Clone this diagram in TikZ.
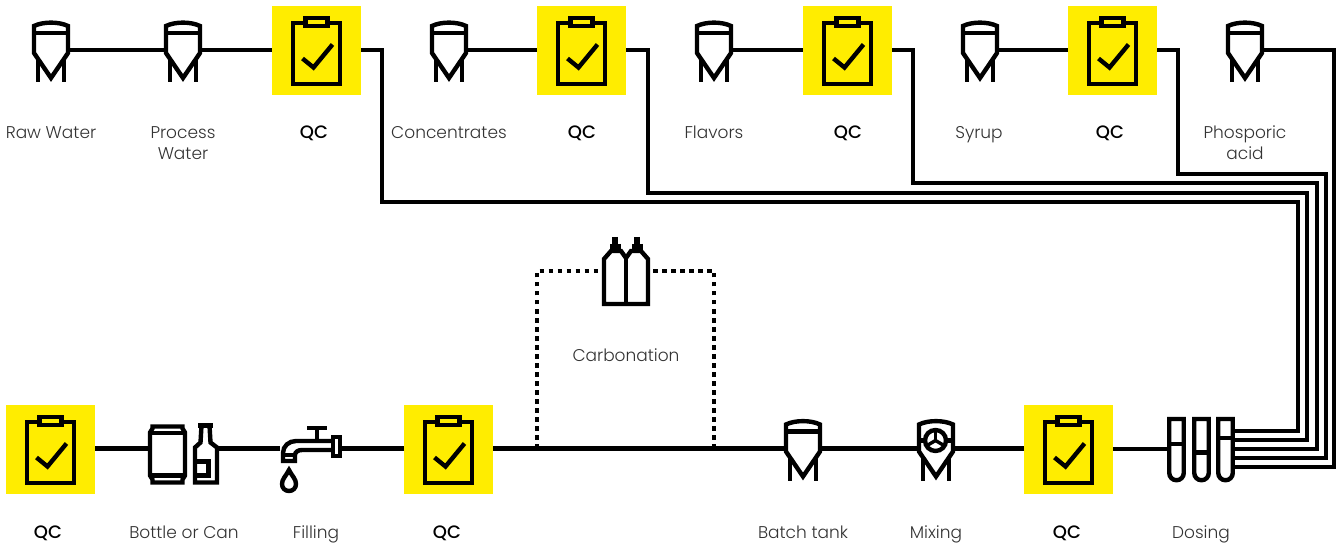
\documentclass[tikz,border=0pt]{standalone}
\usepackage{fontspec}
\setmainfont{Poppins}[UprightFont=* Light,BoldFont=* Medium]
\definecolor{qcyellow}{HTML}{FFED00}
\definecolor{labelgray}{HTML}{333333}
\tikzset{
pipe/.style={line width=4.8pt,black},
gasline/.style={line width=4.4pt,black,dash pattern=on 4.4pt off 4.6pt},
iconline/.style={line width=4.4pt,black,line join=miter},
tankbase/.style={minimum width=38pt,minimum height=60pt,inner sep=0pt},
qcbox/.style={fill=qcyellow,minimum width=89pt,minimum height=89pt,inner sep=0pt},
lbl/.style={font=\fontsize{17}{21}\selectfont,text=labelgray,align=center,inner sep=0pt},
qclbl/.style={font=\fontsize{18}{21}\selectfont\bfseries,text=black,inner sep=0pt},
tank/.pic={
\draw[iconline] (-17,3) -- (-17,-24) .. controls (-8,-28.5) and (8,-28.5) .. (17,-24) -- (17,3) -- (0,28) -- cycle;
\draw[iconline] (-17,-17) -- (17,-17);
\draw[iconline] (-13,9) -- (-13,32);
\draw[iconline] (13,9) -- (13,32);
},
mixtank/.pic={
\draw[iconline] (-17,3) -- (-17,-24) .. controls (-8,-28.5) and (8,-28.5) .. (17,-24) -- (17,3) -- (0,28) -- cycle;
\draw[iconline] (-13,9) -- (-13,32);
\draw[iconline] (13,9) -- (13,32);
\draw[iconline,fill=white] (-0.5,-8) circle (10.5);
\draw[line width=3.4pt] (-0.5,-8) -- (-0.5,-18);
\draw[line width=3.4pt] (-0.5,-8) -- (-9,-3);
\draw[line width=3.4pt] (-0.5,-8) -- (8,-3);
\draw[iconline] (-17,-8) -- (-11,-8);
\draw[iconline] (17,-8) -- (10,-8);
},
clipboard/.pic={
\draw[iconline] (-23.5,-27.5) rectangle (23.5,33.5);
\draw[iconline,fill=qcyellow] (-11,-32.5) rectangle (11,-24.5);
\draw[iconline] (-14,8) -- (-3,17) -- (16,-6);
},
cylinders/.pic={
\draw[iconline] (-22,33) -- (-22,-12) -- (-15,-20) -- (-5,-20) -- (0,-13) -- (5,-20) -- (15,-20) -- (22,-12) -- (22,33) -- cycle;
\draw[iconline] (0,-13) -- (0,33);
\draw[line width=5.5pt] (-11,-34) -- (-11,-24);
\draw[line width=5.5pt] (11,-34) -- (11,-24);
\draw[line width=11pt] (-11,-27) -- (-11,-20);
\draw[line width=11pt] (11,-27) -- (11,-20);
},
canbottle/.pic={
% can
\draw[iconline] (-31,-22) -- (-1,-22) -- (-1,-20) -- (1.5,-16) -- (1.5,27) -- (-1,31) -- (-1,34) -- (-31,34) -- (-31,31) -- (-33.5,27) -- (-33.5,-16) -- (-31,-20) -- cycle;
\draw[iconline] (-33,-15.5) -- (1,-15.5);
\draw[iconline] (-33,27) -- (1,27);
% bottle
\draw[iconline] (11.5,34) -- (11.5,-1) -- (17,-6) -- (18,-23) -- (26,-23) -- (27,-6) -- (33.5,-1) -- (33.5,34) -- cycle;
\draw[iconline] (14.5,-23) -- (29.5,-23);
\draw[iconline] (11.5,13) -- (25,13) -- (25,27) -- (11.5,27);
},
faucet/.pic={
\draw[iconline] (22,-12) rectangle (29,7);
\draw[iconline] (22,-8) -- (-15,-8) .. controls (-22,-8) and (-28,-3) .. (-28,4) -- (-28,12) -- (-16,12) -- (-16,6) .. controls (-16,3) and (-13,1) .. (-9,1) -- (22,1);
\draw[iconline] (-28,6) -- (-16,6);
\draw[iconline] (6,-8) -- (6,-21);
\draw[iconline] (-4,-21) -- (16,-21);
\draw[iconline] (-22,21) .. controls (-25,27) and (-29,30) .. (-29,35) .. controls (-29,39) and (-26,42) .. (-22,42) .. controls (-18,42) and (-15,39) .. (-15,35) .. controls (-15,30) and (-19,27) .. (-22,21) -- cycle;
},
tubes/.pic={
\draw[iconline] (-31.75,-30) -- (-31.75,24) arc[start angle=180,end angle=0,radius=7.25] -- (-17.25,-30) -- cycle;
\draw[iconline] (-6.75,-30) -- (-6.75,24) arc[start angle=180,end angle=0,radius=7.25] -- (7.75,-30) -- cycle;
\draw[iconline] (17.25,-30) -- (17.25,24) arc[start angle=180,end angle=0,radius=7.25] -- (31.75,-30) -- cycle;
\draw[iconline] (-31.75,-5) -- (-17.25,-5);
\draw[iconline] (-6.75,3.5) -- (7.75,3.5);
\draw[iconline] (17.25,-11) -- (31.75,-11);
}
}
\begin{document}
\begin{tikzpicture}[x=1pt,y=-1pt]
\useasboundingbox (0,0) rectangle (1336,545);

% top row
\node[tankbase] (rawwater) at (51,50) {};
\node[tankbase] (processwater) at (183,50) {};
\node[qcbox] (qca) at (316.5,50.5) {};
\node[tankbase] (concentrates) at (449,50) {};
\node[qcbox] (qcb) at (581.5,50.5) {};
\node[tankbase] (flavors) at (714,50) {};
\node[qcbox] (qcc) at (847.5,50.5) {};
\node[tankbase] (syrup) at (980,50) {};
\node[qcbox] (qcd) at (1112.5,50.5) {};
\node[tankbase] (phosporic) at (1245,50) {};

% bottom row
\node[qcbox] (qcg) at (50.5,449.5) {};
\node[minimum width=67pt,minimum height=62pt,inner sep=0pt] (bottlecan) at (183.5,448.5) {};
\node[minimum width=61pt,minimum height=30pt,inner sep=0pt] (filling) at (311,448.5) {};
\node[qcbox] (qcf) at (448.5,449.5) {};
\node[tankbase] (batchtank) at (803,448.5) {};
\node[tankbase] (mixing) at (936,448.5) {};
\node[qcbox] (qce) at (1068.5,449.5) {};
\node[minimum width=66pt,minimum height=64pt,inner sep=0pt] (dosing) at (1201,449) {};
\node[minimum width=44pt,minimum height=70pt,inner sep=0pt] (gas) at (626,271) {};

\coordinate (dosinga) at ([yshift=18pt]dosing.east);
\coordinate (dosingb) at ([yshift=9pt]dosing.east);
\coordinate (dosingc) at (dosing.east);
\coordinate (dosingd) at ([yshift=-9pt]dosing.east);
\coordinate (dosinge) at ([yshift=-18pt]dosing.east);
\coordinate (gasleft) at (537,448.5);
\coordinate (gasright) at (714,448.5);

% connectors
\draw[pipe] (rawwater.east) -- (processwater.west);
\draw[pipe] (processwater.east) -- (qca.west |- processwater);
\draw[pipe] (concentrates.east) -- (qcb.west |- concentrates);
\draw[pipe] (flavors.east) -- (qcc.west |- flavors);
\draw[pipe] (syrup.east) -- (qcd.west |- syrup);
\draw[pipe] (qca.east |- rawwater) -- (382,50) -- (382,202) -- (1298,202) |- (dosinga);
\draw[pipe] (qcb.east |- rawwater) -- (648,50) -- (648,193) -- (1307,193) |- (dosingb);
\draw[pipe] (qcc.east |- rawwater) -- (913,50) -- (913,183) -- (1317,183) |- (dosingc);
\draw[pipe] (qcd.east |- rawwater) -- (1178,50) -- (1178,174) -- (1326,174) |- (dosingd);
\draw[pipe] (phosporic.east) -- (1334,50) |- (dosinge);

\draw[pipe] (dosing.west) -- (qce.east |- dosing);
\draw[pipe] (qce.west |- mixing) -- (mixing.east);
\draw[pipe] (mixing.west) -- (batchtank.east);
\draw[pipe] (batchtank.west) -- (qcf.east |- batchtank);
\draw[pipe] (qcf.west |- filling) -- (filling.east);
\draw[pipe] (filling.west) -- (bottlecan.east);
\draw[pipe] (bottlecan.west) -- (qcg.east |- bottlecan);
\draw[gasline] (gasleft) |- (gas.west);
\draw[gasline] (gasright) |- (gas.east);

% icons
\pic at (rawwater) {tank};
\pic at (processwater) {tank};
\pic at (concentrates) {tank};
\pic at (flavors) {tank};
\pic at (syrup) {tank};
\pic at (phosporic) {tank};
\pic at (batchtank) {tank};
\pic at (mixing) {mixtank};
\pic at (qca) {clipboard};
\pic at (qcb) {clipboard};
\pic at (qcc) {clipboard};
\pic at (qcd) {clipboard};
\pic at (qce) {clipboard};
\pic at (qcf) {clipboard};
\pic at (qcg) {clipboard};
\pic at (gas) {cylinders};
\pic at (bottlecan) {canbottle};
\pic at (311,449) {faucet};
\pic at (dosing) {tubes};

% labels
\node[lbl,anchor=base] (lblraw) at (51,139) {Raw Water};
\node[lbl,anchor=north] (lblprocess) at (183,126) {Process\\Water};
\node[qclbl,anchor=base] (lblqca) at (314,139) {QC};
\node[lbl,anchor=base] (lblconc) at (449,139) {Concentrates};
\node[qclbl,anchor=base] (lblqcb) at (582,139) {QC};
\node[lbl,anchor=base] (lblflav) at (714,139) {Flavors};
\node[qclbl,anchor=base] (lblqcc) at (848,139) {QC};
\node[lbl,anchor=base] (lblsyrup) at (979,139) {Syrup};
\node[qclbl,anchor=base] (lblqcd) at (1110,139) {QC};
\node[lbl,anchor=north] (lblphos) at (1245,126) {Phosporic\\acid};
\node[lbl,anchor=base] (lblcarb) at (626,361) {Carbonation};
\node[qclbl,anchor=base] (lblqcg) at (48,538) {QC};
\node[lbl,anchor=base] (lblbottle) at (184,538) {Bottle or Can};
\node[lbl,anchor=base] (lblfill) at (316,538) {Filling};
\node[qclbl,anchor=base] (lblqcf) at (447,538) {QC};
\node[lbl,anchor=base] (lblbatch) at (803,538) {Batch tank};
\node[lbl,anchor=base] (lblmix) at (936,538) {Mixing};
\node[qclbl,anchor=base] (lblqce) at (1067,538) {QC};
\node[lbl,anchor=base] (lbldose) at (1201,538) {Dosing};
\end{tikzpicture}
\end{document}
